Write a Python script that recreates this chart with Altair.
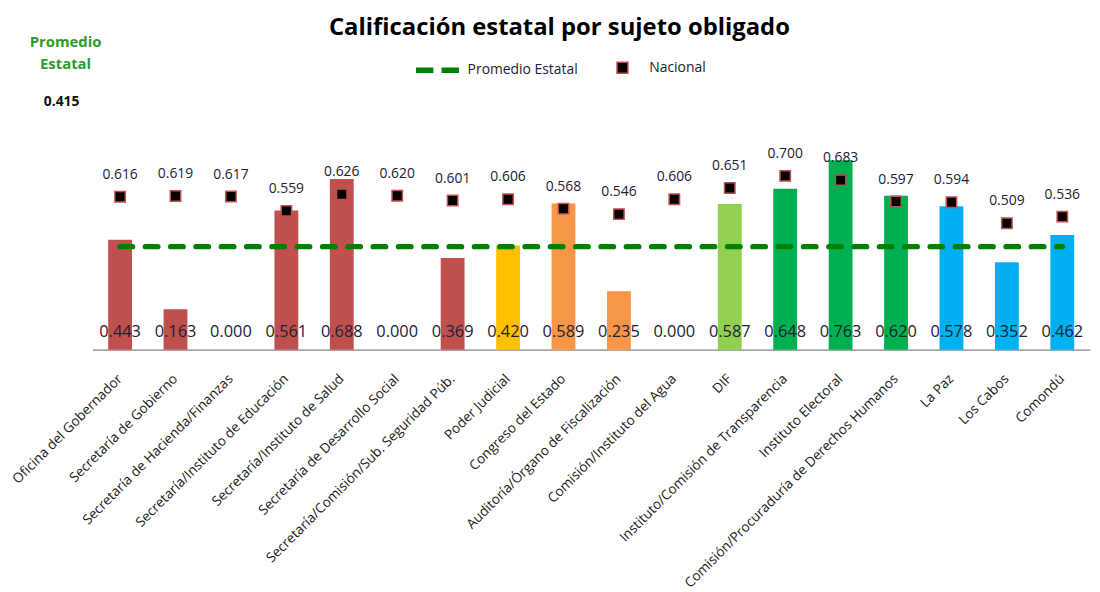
import altair as alt
import pandas as pd

sujetos = [
    "Oficina del Gobernador",
    "Secretaría de Gobierno",
    "Secretaría de Hacienda/Finanzas",
    "Secretaría/Instituto de Educación",
    "Secretaría/Instituto de Salud",
    "Secretaría de Desarrollo Social",
    "Secretaría/Comisión/Sub. Seguridad Púb.",
    "Poder Judicial",
    "Congreso del Estado",
    "Auditoría/Órgano de Fiscalización",
    "Comisión/Instituto del Agua",
    "DIF",
    "Instituto/Comisión de Transparencia",
    "Instituto Electoral",
    "Comisión/Procuraduría de Derechos Humanos",
    "La Paz",
    "Los Cabos",
    "Comondú",
]
estatal = [0.443, 0.163, 0.000, 0.561, 0.688, 0.000, 0.369, 0.420, 0.589,
           0.235, 0.000, 0.587, 0.648, 0.763, 0.620, 0.578, 0.352, 0.462]
nacional = [0.616, 0.619, 0.617, 0.559, 0.626, 0.620, 0.601, 0.606, 0.568,
            0.546, 0.606, 0.651, 0.700, 0.683, 0.597, 0.594, 0.509, 0.536]
grupo = (["Ejecutivo"] * 7 + ["Judicial"] + ["Legislativo"] * 3 + ["DIF"]
         + ["Autónomos"] * 3 + ["Municipios"] * 3)
promedio_estatal = 0.415

grupos = ["Ejecutivo", "Judicial", "Legislativo", "DIF", "Autónomos", "Municipios"]
colores = ["#C0504D", "#FFC000", "#F79646", "#92D050", "#00B050", "#00B0F0"]

n = len(sujetos)
df = pd.DataFrame({
    "sujeto": sujetos,
    "estatal": estatal,
    "nacional": nacional,
    "grupo": grupo,
    "promedio": [promedio_estatal] * n,
    "serie_prom": ["Promedio Estatal"] * n,
    "serie_nac": ["Nacional"] * n,
})

FONT = "Open Sans"
TXT = "#1c2033"

yscale = alt.Scale(domain=[0, 0.8])
base = alt.Chart(df).encode(
    x=alt.X("sujeto:N", sort=sujetos, title=None,
            scale=alt.Scale(paddingInner=0.57, paddingOuter=0.285),
            axis=alt.Axis(labelAngle=-45, labelAlign="right", labelBaseline="middle",
                          labelFont=FONT, labelFontSize=13.7, labelColor="#1a1a1a",
                          labelPadding=27, labelLimit=400, ticks=False,
                          domainColor="#A6A6A6", domainWidth=2, grid=False))
)

bars = base.mark_bar().encode(
    y=alt.Y("estatal:Q", scale=yscale, axis=None),
    color=alt.Color("grupo:N", scale=alt.Scale(domain=grupos, range=colores), legend=None),
)

bar_text = base.mark_text(dy=-18, font=FONT, fontSize=16.5, color=TXT).encode(
    y=alt.datum(0),
    text=alt.Text("estatal:Q", format=".3f"),
)

line = base.mark_line(strokeDash=[12.5, 13], strokeWidth=5.5, strokeCap="round").encode(
    y=alt.Y("promedio:Q"),
    stroke=alt.Stroke("serie_prom:N",
                      scale=alt.Scale(domain=["Promedio Estatal"], range=["#008000"]),
                      legend=alt.Legend(title=None, orient="none", legendX=323, legendY=-108,
                                        symbolType="stroke", symbolStrokeWidth=5.5,
                                        symbolDash=[17.5, 8.2], symbolSize=2200, padding=0,
                                        labelFont=FONT, labelFontSize=14, labelColor=TXT,
                                        labelOffset=2)),
)

points = base.mark_square(size=110, stroke="#C0504D", strokeWidth=1.5, opacity=1).encode(
    y=alt.Y("nacional:Q"),
    fill=alt.Fill("serie_nac:N",
                  scale=alt.Scale(domain=["Nacional"], range=["#000000"]),
                  legend=alt.Legend(title=None, orient="none", legendX=527, legendY=-91,
                                    symbolType="square", symbolSize=121,
                                    symbolStrokeColor="#C0504D", symbolStrokeWidth=1.5,
                                    padding=0, labelFont=FONT, labelFontSize=14,
                                    labelColor=TXT, labelOffset=20)),
)

nac_text = base.mark_text(dy=-22, font=FONT, fontSize=14, color=TXT).encode(
    y=alt.Y("nacional:Q"),
    text=alt.Text("nacional:Q", format=".3f"),
)

anot = pd.DataFrame({"valor": [promedio_estatal]})
prom_label = alt.Chart(anot).mark_text(
    text=["Promedio", "Estatal"], lineHeight=22, font=FONT, fontSize=15,
    fontWeight="bold", color="#2E9A2E", align="center", baseline="middle"
).encode(x=alt.value(-27), y=alt.value(-110))

prom_value = alt.Chart(anot).mark_text(
    font=FONT, fontSize=14, fontWeight="bold", color="#111111",
    align="center", baseline="middle"
).encode(x=alt.value(-31), y=alt.value(-49), text=alt.Text("valor:Q", format=".3f"))

chart = alt.layer(bars, line, points, bar_text, nac_text, prom_label, prom_value).properties(
    width=1005, height=200,
    autosize=alt.AutoSizeParams(type="none"),
    padding={"left": 85, "top": 142, "right": 2, "bottom": 240},
    title=alt.TitleParams("Calificación estatal por sujeto obligado", font=FONT,
                          fontSize=24, fontWeight="bold", color="#000000",
                          anchor="middle", dx=-32, dy=9),
).configure_view(stroke=None)

chart.save("out.html", embed_options={"renderer": "svg", "actions": False})
